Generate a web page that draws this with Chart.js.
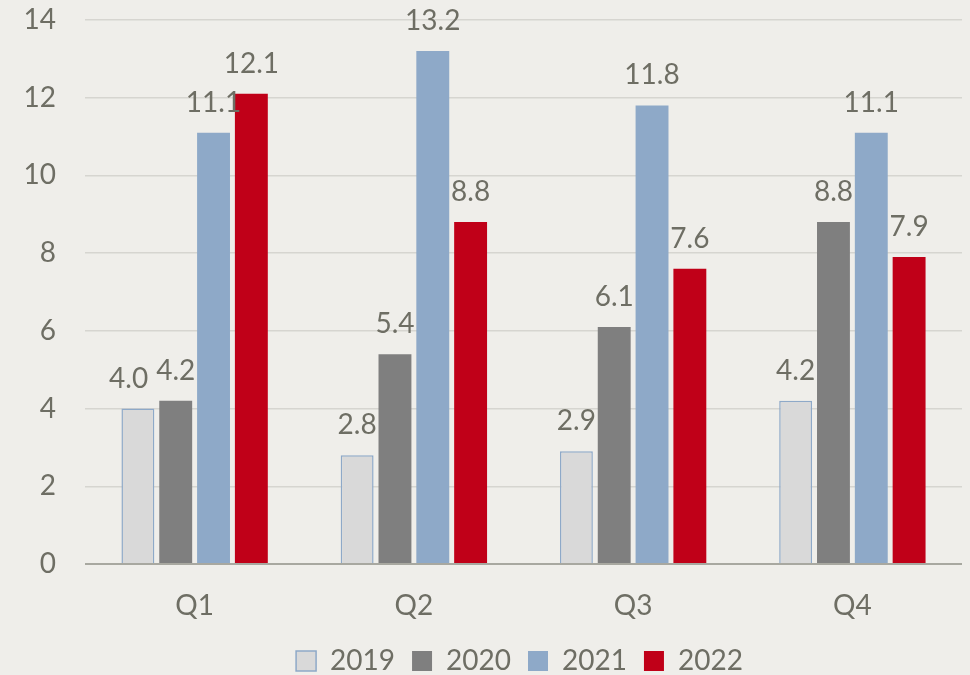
<!DOCTYPE html>
<html lang="en">
<head>
    <meta charset="UTF-8">
    <title>Quarterly values 2019-2022</title>
    <script src="https://cdn.jsdelivr.net/npm/chart.js"></script>
    <style>
        body { margin: 0; background: #EFEEEA; }
        #wrap { width: 970px; height: 675px; }
    </style>
</head>
<body>
    <div id="wrap">
        <canvas id="quarterChart" width="970" height="675"></canvas>
    </div>

    <script>
        // data
        const quarters = ['Q1', 'Q2', 'Q3', 'Q4'];
        const values2019 = [4.0, 2.8, 2.9, 4.2];
        const values2020 = [4.2, 5.4, 6.1, 8.8];
        const values2021 = [11.1, 13.2, 11.8, 11.1];
        const values2022 = [12.1, 8.8, 7.6, 7.9];

        const textColor = '#6E6E64';
        const fontFamily = 'Lato, "Liberation Sans", sans-serif';
        const labelSize = 28;

        // draws the value above each bar, nudging a label left when it would collide with its neighbour
        const valueLabels = {
            id: 'valueLabels',
            afterDatasetsDraw(chart) {
                const ctx = chart.ctx;
                ctx.save();
                ctx.font = labelSize + 'px ' + fontFamily;
                ctx.fillStyle = textColor;
                ctx.textAlign = 'center';
                ctx.textBaseline = 'alphabetic';
                const n = chart.data.datasets.length;
                chart.data.labels.forEach((q, j) => {
                    const items = [];
                    for (let i = 0; i < n; i++) {
                        const bar = chart.getDatasetMeta(i).data[j];
                        const text = chart.data.datasets[i].data[j].toFixed(1);
                        items.push({ text, x: bar.x, y: bar.y - 21, w: ctx.measureText(text).width });
                    }
                    for (let i = n - 2; i >= 0; i--) {
                        const a = items[i], b = items[i + 1];
                        if (Math.abs(a.y - b.y) < labelSize) {
                            const overlap = (a.x + a.w / 2) - (b.x - b.w / 2) + 8;
                            if (overlap > 0) a.x -= overlap;
                        }
                    }
                    items.forEach(it => ctx.fillText(it.text, it.x, it.y));
                });
                ctx.restore();
            }
        };

        // centre the legend under the plot area rather than the whole canvas
        const legendShift = {
            id: 'legendShift',
            afterLayout(chart) {
                const dx = (chart.chartArea.left + chart.chartArea.right) / 2 - chart.width / 2;
                chart.legend.left += dx;
                chart.legend.right += dx;
            }
        };

        const ctx = document.getElementById('quarterChart').getContext('2d');
        const myChart = new Chart(ctx, {
            type: 'bar',
            data: {
                labels: quarters,
                datasets: [
                    { label: '2019', data: values2019, backgroundColor: '#D9D9D9', borderColor: '#8EA9C8', borderWidth: 1.5 },
                    { label: '2020', data: values2020, backgroundColor: '#7F7F7F', borderWidth: 0 },
                    { label: '2021', data: values2021, backgroundColor: '#8EA9C8', borderWidth: 0 },
                    { label: '2022', data: values2022, backgroundColor: '#C00018', borderWidth: 0 }
                ]
            },
            options: {
                responsive: false,
                animation: false,
                categoryPercentage: 0.69,
                barPercentage: 0.87,
                layout: { padding: { top: 20, right: 8, left: 0, bottom: -10 } },
                plugins: {
                    tooltip: { enabled: false },
                    legend: {
                        position: 'bottom',
                        labels: {
                            color: textColor,
                            font: { size: 28, family: fontFamily },
                            boxWidth: 20,
                            boxHeight: 20,
                            padding: 17
                        }
                    }
                },
                scales: {
                    x: {
                        grid: { display: false },
                        border: { display: false },
                        ticks: { color: textColor, font: { size: 28, family: fontFamily }, padding: 17 },
                        afterFit: scale => { scale.height = 66; }
                    },
                    y: {
                        min: 0,
                        max: 14,
                        ticks: { stepSize: 2, color: textColor, font: { size: 28, family: fontFamily }, padding: 29 },
                        border: { display: false },
                        grid: {
                            drawTicks: false,
                            color: c => c.tick && c.tick.value === 0 ? '#A8A8A0' : '#D6D5D0',
                            lineWidth: c => c.tick && c.tick.value === 0 ? 2 : 1.5
                        },
                        afterFit: scale => {
                            scale.width = 85;
                            scale.paddingTop = 0;
                            scale.paddingBottom = 0;
                        }
                    }
                }
            },
            plugins: [valueLabels, legendShift]
        });
    </script>
</body>
</html>
